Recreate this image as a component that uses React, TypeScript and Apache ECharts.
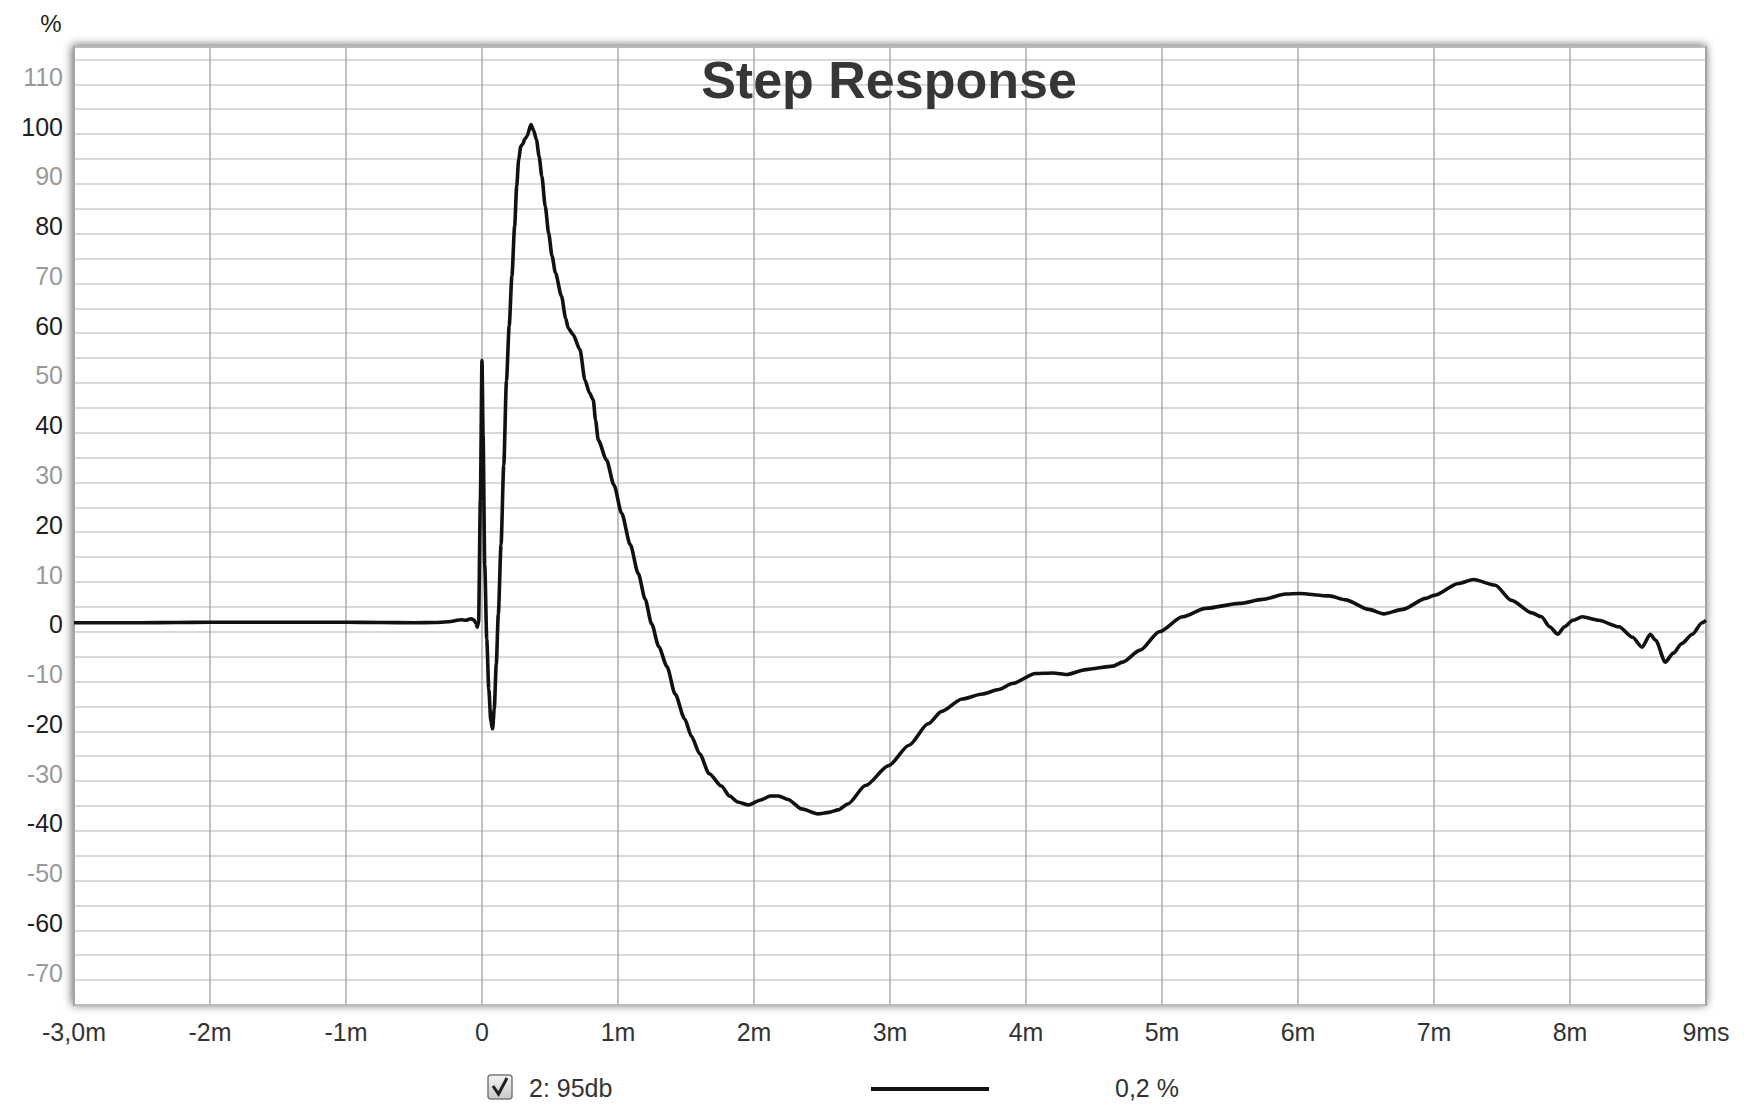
import React, { useEffect, useRef } from "react";
import * as echarts from "echarts";

const times: number[] = [
  -3, -2.75, -2.5, -2.25, -2, -1.75, -1.5, -1.25, -1, -0.75, -0.5, -0.35, -0.25, -0.15, -0.12, -0.08, -0.06, -0.045, -0.035, -0.025,
  -0.012, 0.0, 0.008, 0.02, 0.035, 0.05, 0.065, 0.078, 0.09, 0.105, 0.12, 0.14, 0.16, 0.18, 0.2, 0.22, 0.24, 0.255, 0.27, 0.285,
  0.3, 0.315, 0.33, 0.36, 0.38, 0.4, 0.42, 0.44, 0.465, 0.49, 0.515, 0.54, 0.585, 0.615, 0.634, 0.67, 0.72, 0.757, 0.79, 0.818,
  0.835, 0.855, 0.916, 0.97, 1.027, 1.09, 1.149, 1.2, 1.247, 1.3, 1.36, 1.42, 1.49, 1.54, 1.6, 1.67, 1.76, 1.82, 1.88, 1.96,
  2.05, 2.12, 2.18, 2.25, 2.35, 2.47, 2.55, 2.62, 2.69, 2.82, 2.99, 3.14, 3.28, 3.38, 3.53, 3.68, 3.8, 3.9, 4.07, 4.2,
  4.3, 4.44, 4.64, 4.71, 4.84, 4.98, 5.15, 5.32, 5.57, 5.74, 5.91, 6.01, 6.23, 6.35, 6.52, 6.63, 6.77, 6.94, 7.0, 7.18,
  7.29, 7.45, 7.57, 7.72, 7.79, 7.85, 7.91, 7.96, 8.02, 8.09, 8.21, 8.36, 8.46, 8.53, 8.59, 8.63, 8.7, 8.76, 8.82, 8.9,
  8.97, 9.0,
];

const stepValues: number[] = [
  0.3, 0.3, 0.3, 0.35, 0.4, 0.4, 0.4, 0.4, 0.4, 0.35, 0.3, 0.35, 0.5, 0.9, 0.8, 1.1, 0.9, 0.2, -0.6, 0.5,
  25, 53, 38, 12, -3, -13, -19.5, -21, -17, -8, 2, 16, 32, 49, 60, 70, 80, 88, 93.5, 96,
  96.5, 97.5, 98, 100.4, 99.2, 97.4, 94, 90, 84, 78.6, 74, 70.6, 65.9, 61.5, 59.5, 58.2, 55.2, 49.1, 46.5, 45.1,
  41, 37, 33, 28, 22.3, 16, 10.2, 5, 0.1, -4.5, -8.5, -14, -19, -22.5, -26, -30, -32.5, -34.5, -35.7, -36.3,
  -35.3, -34.5, -34.5, -35.2, -37.1, -38.1, -37.8, -37.3, -36.1, -32.4, -28.4, -24.3, -20, -17.5, -15, -14, -13.1, -11.9, -9.9, -9.8,
  -10.1, -9.1, -8.4, -7.6, -5.2, -1.5, 1.5, 3.2, 4.2, 5.0, 6.1, 6.2, 5.7, 4.9, 3.0, 2.1, 3.0, 5.2, 5.8, 8.2,
  9.0, 7.85, 4.8, 2.3, 1.5, -0.5, -2.0, -0.5, 0.8, 1.5, 0.8, -0.5, -2.6, -4.6, -2.0, -3.2, -7.6, -5.8, -3.9, -2,
  0.3, 0.8,
];

const xTickValues: number[] = [-3, -2, -1, 0, 1, 2, 3, 4, 5, 6, 7, 8, 9];
const xTickLabels: string[] = ["-3,0m", "-2m", "-1m", "0", "1m", "2m", "3m", "4m", "5m", "6m", "7m", "8m", "9ms"];
const yLabelValues: number[] = [-70, -60, -50, -40, -30, -20, -10, 0, 10, 20, 30, 40, 50, 60, 70, 80, 90, 100, 110];

const yMin = -76.5;
const yMax = 116;

const titleText = "Step Response";
const yUnit = "%";
const legendName = "2: 95db";
const legendValue = "0,2 %";

const FONT = '"Liberation Sans", Arial, sans-serif';

export default function App() {
  const ref = useRef<HTMLDivElement>(null);

  useEffect(() => {
    if (!ref.current) return;
    const chart = echarts.init(ref.current, undefined, { renderer: "svg" });

    const data = times.map((t, i) => [t, stepValues[i]]);
    const labelMap: Record<string, string> = {};
    xTickValues.forEach((v, i) => {
      labelMap[String(v)] = xTickLabels[i];
    });
    const yLabelSet: Record<string, boolean> = {};
    yLabelValues.forEach((v) => {
      yLabelSet[String(v)] = true;
    });

    const yFormatter = (v: any) => {
      const r = Math.round(Number(v) * 100) / 100;
      return yLabelSet[String(r)] ? String(r) : "";
    };
    const yColor = (v: any) => {
      const r = Math.round(Number(v));
      return Math.abs(r % 20) === 0 ? "#1e1e1e" : "#999999";
    };

    const option: any = {
      animation: false,
      backgroundColor: "#ffffff",
      grid: {
        left: 74,
        right: 38,
        top: 47,
        bottom: 102,
        show: true,
        backgroundColor: "#ffffff",
        borderColor: "#8a8a8a",
        borderWidth: 2,
        shadowBlur: 10,
        shadowColor: "rgba(0,0,0,0.6)",
        shadowOffsetX: -1,
        shadowOffsetY: -1,
      },
      xAxis: {
        type: "value",
        min: -3,
        max: 9,
        interval: 1,
        axisLine: { show: false, onZero: false },
        axisTick: { show: false },
        splitLine: { show: true, lineStyle: { color: "#adadad", width: 1.5 } },
        axisLabel: {
          show: true,
          margin: 14,
          fontSize: 25,
          fontFamily: FONT,
          color: "#333333",
          showMinLabel: true,
          showMaxLabel: true,
          hideOverlap: false,
          formatter: (v: number) => {
            const k = String(Math.round(Number(v) * 1000) / 1000);
            return labelMap[k] !== undefined ? labelMap[k] : "";
          },
        },
      },
      yAxis: [
        {
          type: "value",
          min: yMin,
          max: yMax,
          interval: 5,
          position: "left",
          axisLine: { show: false, onZero: false },
          axisTick: { show: false },
          splitLine: { show: true, lineStyle: { color: "#cdcdcd", width: 1.5 } },
          axisLabel: { show: false },
        },
        {
          type: "value",
          min: yMin,
          max: yMax,
          interval: 10,
          position: "left",
          offset: 0,
          axisLine: { show: false, onZero: false },
          axisTick: { show: false },
          splitLine: { show: false },
          axisLabel: {
            show: true,
            interval: 0,
            customValues: yLabelValues,
            margin: 11,
            fontSize: 25,
            fontFamily: FONT,
            hideOverlap: false,
            color: yColor,
            formatter: yFormatter,
          },
        },
      ],
      series: [
        {
          type: "line",
          data,
          yAxisIndex: 0,
          showSymbol: false,
          symbol: "none",
          smooth: 0.25,
          smoothMonotone: "x",
          lineStyle: { color: "#111111", width: 3.6 },
          z: 5,
        },
      ],
      graphic: [
        {
          type: "text",
          x: 889,
          y: 80,
          z: 10,
          style: {
            text: titleText,
            font: 'bold 52px "Liberation Sans", Arial, sans-serif',
            fill: "#363636",
            textAlign: "center",
            textVerticalAlign: "middle",
          },
        },
        {
          type: "text",
          x: 51,
          y: 23,
          style: {
            text: yUnit,
            font: '24px "Liberation Sans", Arial, sans-serif',
            fill: "#222222",
            textAlign: "center",
            textVerticalAlign: "middle",
          },
        },
        {
          type: "rect",
          shape: { x: 488, y: 1075, width: 24, height: 24, r: 3 },
          style: {
            fill: new echarts.graphic.LinearGradient(0, 0, 0, 1, [
              { offset: 0, color: "#f4f4f4" },
              { offset: 1, color: "#c8c8c8" },
            ]),
            stroke: "#7a7a7a",
            lineWidth: 1.5,
          },
        },
        {
          type: "polyline",
          shape: { points: [[493, 1086], [498.5, 1094], [507, 1078]] },
          style: { stroke: "#222222", lineWidth: 3, fill: null },
        },
        {
          type: "text",
          x: 529,
          y: 1088,
          style: {
            text: legendName,
            font: '25px "Liberation Sans", Arial, sans-serif',
            fill: "#333333",
            textAlign: "left",
            textVerticalAlign: "middle",
          },
        },
        {
          type: "line",
          shape: { x1: 871, y1: 1089, x2: 989, y2: 1089 },
          style: { stroke: "#111111", lineWidth: 4 },
        },
        {
          type: "text",
          x: 1115,
          y: 1088,
          style: {
            text: legendValue,
            font: '25px "Liberation Sans", Arial, sans-serif',
            fill: "#333333",
            textAlign: "left",
            textVerticalAlign: "middle",
          },
        },
      ],
    };

    chart.setOption(option);
    return () => {
      chart.dispose();
    };
  }, []);

  return (
    <div
      ref={ref}
      style={{ position: "absolute", left: 0, top: 0, width: 1744, height: 1107 }}
    />
  );
}
